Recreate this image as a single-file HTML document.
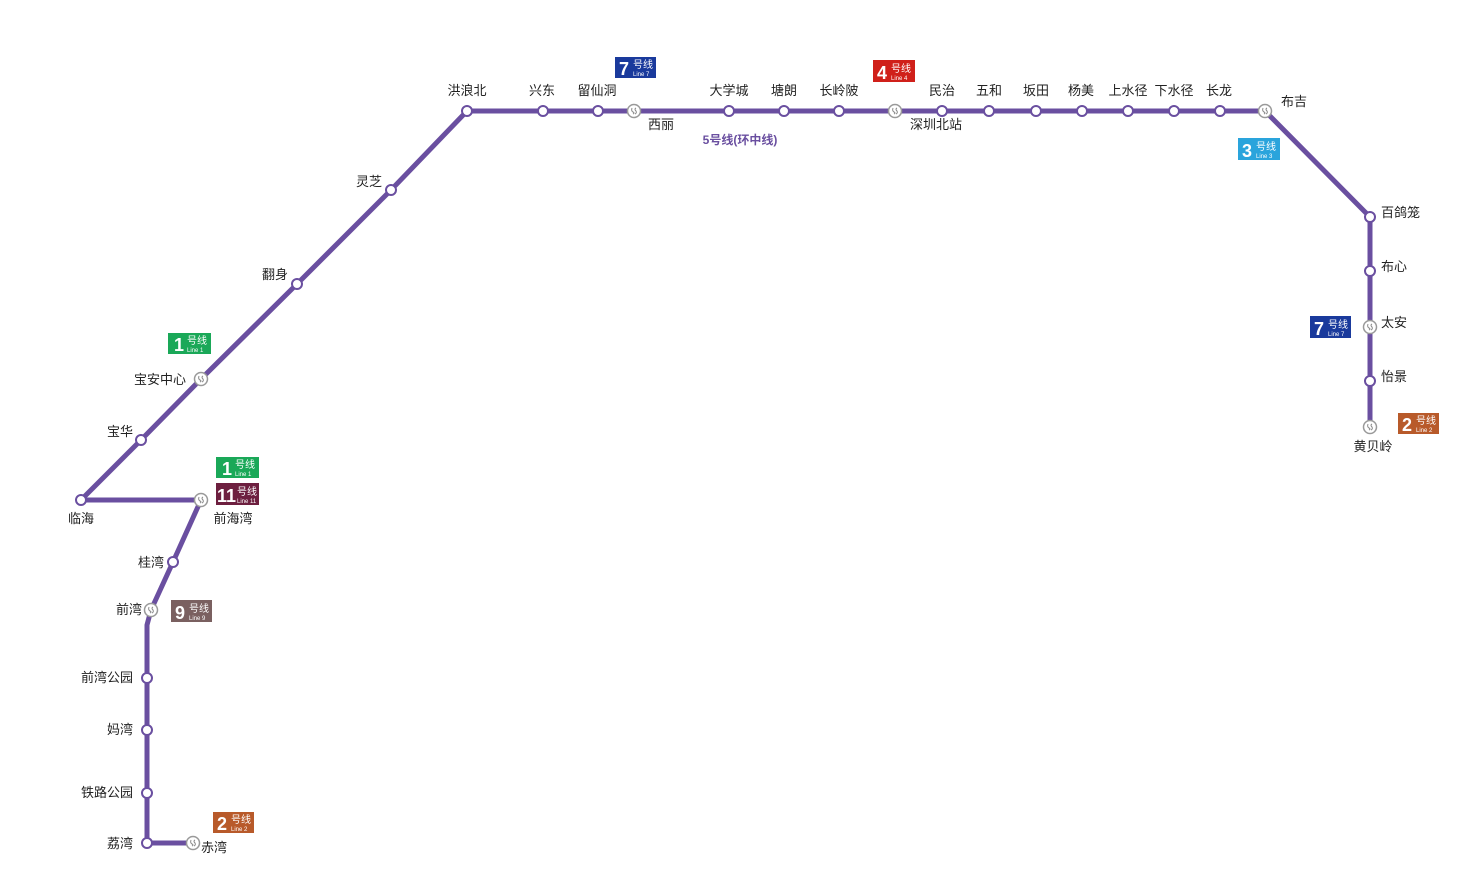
<!DOCTYPE html>
<html><head><meta charset="utf-8"><style>
html,body{margin:0;padding:0;background:#fff}
svg{display:block}
text{font-family:"Liberation Sans","Noto Sans CJK SC",sans-serif}
.l{font-size:13px;fill:#222}
</style></head><body>
<svg width="1475" height="893" viewBox="0 0 1475 893" xmlns="http://www.w3.org/2000/svg">
<defs>
<g id="st"><circle r="5" fill="#fff" stroke="#6a4fa0" stroke-width="2"/></g>
<g id="ix"><circle r="6.5" fill="#fff" stroke="#999" stroke-width="1.5"/><path d="M-2,-3 Q-3,0 -1,1 Q1,2 -1,3 M2,-3 Q0,-2 2,0 Q3,2 1,3" fill="none" stroke="#888" stroke-width="1"/></g>
</defs>
<polyline points="193,843 147,843 147,625 151,610 173,562 201,500 81,500 141,440 201,379 297,284 391,190 467,111 1265,111 1370,217 1370,427" fill="none" stroke="#6a4fa0" stroke-width="5" stroke-linejoin="round"/>

<use href="#st" x="467" y="111"/><use href="#st" x="543" y="111"/><use href="#st" x="598" y="111"/>
<use href="#ix" x="634" y="111"/><use href="#st" x="729" y="111"/><use href="#st" x="784" y="111"/>
<use href="#st" x="839" y="111"/><use href="#ix" x="895" y="111"/><use href="#st" x="942" y="111"/>
<use href="#st" x="989" y="111"/><use href="#st" x="1036" y="111"/><use href="#st" x="1082" y="111"/>
<use href="#st" x="1128" y="111"/><use href="#st" x="1174" y="111"/><use href="#st" x="1220" y="111"/>
<use href="#ix" x="1265" y="111"/><use href="#st" x="1370" y="217"/><use href="#st" x="1370" y="271"/>
<use href="#ix" x="1370" y="327"/><use href="#st" x="1370" y="381"/><use href="#ix" x="1370" y="427"/>
<use href="#st" x="391" y="190"/><use href="#st" x="297" y="284"/><use href="#ix" x="201" y="379"/>
<use href="#st" x="141" y="440"/><use href="#st" x="81" y="500"/><use href="#ix" x="201" y="500"/>
<use href="#st" x="173" y="562"/><use href="#ix" x="151" y="610"/><use href="#st" x="147" y="678"/>
<use href="#st" x="147" y="730"/><use href="#st" x="147" y="793"/><use href="#st" x="147" y="843"/>
<use href="#ix" x="193" y="843"/>

<text class="l" x="467" y="95" text-anchor="middle">洪浪北</text>
<text class="l" x="542" y="95" text-anchor="middle">兴东</text>
<text class="l" x="597" y="95" text-anchor="middle">留仙洞</text>
<text class="l" x="661" y="129" text-anchor="middle">西丽</text>
<text class="l" x="729" y="95" text-anchor="middle">大学城</text>
<text class="l" x="784" y="95" text-anchor="middle">塘朗</text>
<text class="l" x="839" y="95" text-anchor="middle">长岭陂</text>
<text class="l" x="936" y="129" text-anchor="middle">深圳北站</text>
<text class="l" x="942" y="95" text-anchor="middle">民治</text>
<text class="l" x="989" y="95" text-anchor="middle">五和</text>
<text class="l" x="1036" y="95" text-anchor="middle">坂田</text>
<text class="l" x="1081" y="95" text-anchor="middle">杨美</text>
<text class="l" x="1128" y="95" text-anchor="middle">上水径</text>
<text class="l" x="1174" y="95" text-anchor="middle">下水径</text>
<text class="l" x="1219" y="95" text-anchor="middle">长龙</text>
<text class="l" x="1281" y="106">布吉</text>
<text class="l" x="1381" y="217">百鸽笼</text>
<text class="l" x="1381" y="271">布心</text>
<text class="l" x="1381" y="327">太安</text>
<text class="l" x="1381" y="381">怡景</text>
<text class="l" x="1373" y="451" text-anchor="middle">黄贝岭</text>
<text class="l" x="382" y="186" text-anchor="end">灵芝</text>
<text class="l" x="288" y="279" text-anchor="end">翻身</text>
<text class="l" x="186" y="384" text-anchor="end">宝安中心</text>
<text class="l" x="133" y="436" text-anchor="end">宝华</text>
<text class="l" x="81" y="523" text-anchor="middle">临海</text>
<text class="l" x="233" y="523" text-anchor="middle">前海湾</text>
<text class="l" x="164" y="567" text-anchor="end">桂湾</text>
<text class="l" x="142" y="614" text-anchor="end">前湾</text>
<text class="l" x="133" y="682" text-anchor="end">前湾公园</text>
<text class="l" x="133" y="734" text-anchor="end">妈湾</text>
<text class="l" x="133" y="797" text-anchor="end">铁路公园</text>
<text class="l" x="133" y="848" text-anchor="end">荔湾</text>
<text class="l" x="201" y="852">赤湾</text>
<text x="740" y="144" text-anchor="middle" font-size="12" font-weight="bold" fill="#6a4fa0">5号线(环中线)</text>

<g transform="translate(615,57)"><rect width="41" height="21" fill="#1a3a9c"/><text x="4" y="18" font-size="18" font-weight="bold" fill="#fff">7</text><text x="18" y="11" font-size="10" fill="#fff">号线</text><text x="18" y="19" font-size="6" fill="#fff">Line 7</text></g>
<g transform="translate(873,60)"><rect width="42" height="22" fill="#d0201a"/><text x="4" y="19" font-size="18" font-weight="bold" fill="#fff">4</text><text x="18" y="12" font-size="10" fill="#fff">号线</text><text x="18" y="20" font-size="6" fill="#fff">Line 4</text></g>
<g transform="translate(1238,138)"><rect width="42" height="22" fill="#2aa4dc"/><text x="4" y="19" font-size="18" font-weight="bold" fill="#fff">3</text><text x="18" y="12" font-size="10" fill="#fff">号线</text><text x="18" y="20" font-size="6" fill="#fff">Line 3</text></g>
<g transform="translate(1310,316)"><rect width="41" height="22" fill="#1a3a9c"/><text x="4" y="19" font-size="18" font-weight="bold" fill="#fff">7</text><text x="18" y="12" font-size="10" fill="#fff">号线</text><text x="18" y="20" font-size="6" fill="#fff">Line 7</text></g>
<g transform="translate(1398,413)"><rect width="41" height="21" fill="#b85a2a"/><text x="4" y="18" font-size="18" font-weight="bold" fill="#fff">2</text><text x="18" y="11" font-size="10" fill="#fff">号线</text><text x="18" y="19" font-size="6" fill="#fff">Line 2</text></g>
<g transform="translate(168,333)"><rect width="43" height="21" fill="#1aa858"/><text x="6" y="18" font-size="18" font-weight="bold" fill="#fff">1</text><text x="19" y="11" font-size="10" fill="#fff">号线</text><text x="19" y="19" font-size="6" fill="#fff">Line 1</text></g>
<g transform="translate(216,457)"><rect width="43" height="21" fill="#1aa858"/><text x="6" y="18" font-size="18" font-weight="bold" fill="#fff">1</text><text x="19" y="11" font-size="10" fill="#fff">号线</text><text x="19" y="19" font-size="6" fill="#fff">Line 1</text></g>
<g transform="translate(216,483)"><rect width="43" height="22" fill="#6d1f3f"/><text x="1" y="19" font-size="18" font-weight="bold" fill="#fff">11</text><text x="21" y="12" font-size="10" fill="#fff">号线</text><text x="21" y="20" font-size="6" fill="#fff">Line 11</text></g>
<g transform="translate(171,600)"><rect width="41" height="22" fill="#7a6060"/><text x="4" y="19" font-size="18" font-weight="bold" fill="#fff">9</text><text x="18" y="12" font-size="10" fill="#fff">号线</text><text x="18" y="20" font-size="6" fill="#fff">Line 9</text></g>
<g transform="translate(213,812)"><rect width="41" height="21" fill="#b85a2a"/><text x="4" y="18" font-size="18" font-weight="bold" fill="#fff">2</text><text x="18" y="11" font-size="10" fill="#fff">号线</text><text x="18" y="19" font-size="6" fill="#fff">Line 2</text></g>
</svg>
</body></html>
